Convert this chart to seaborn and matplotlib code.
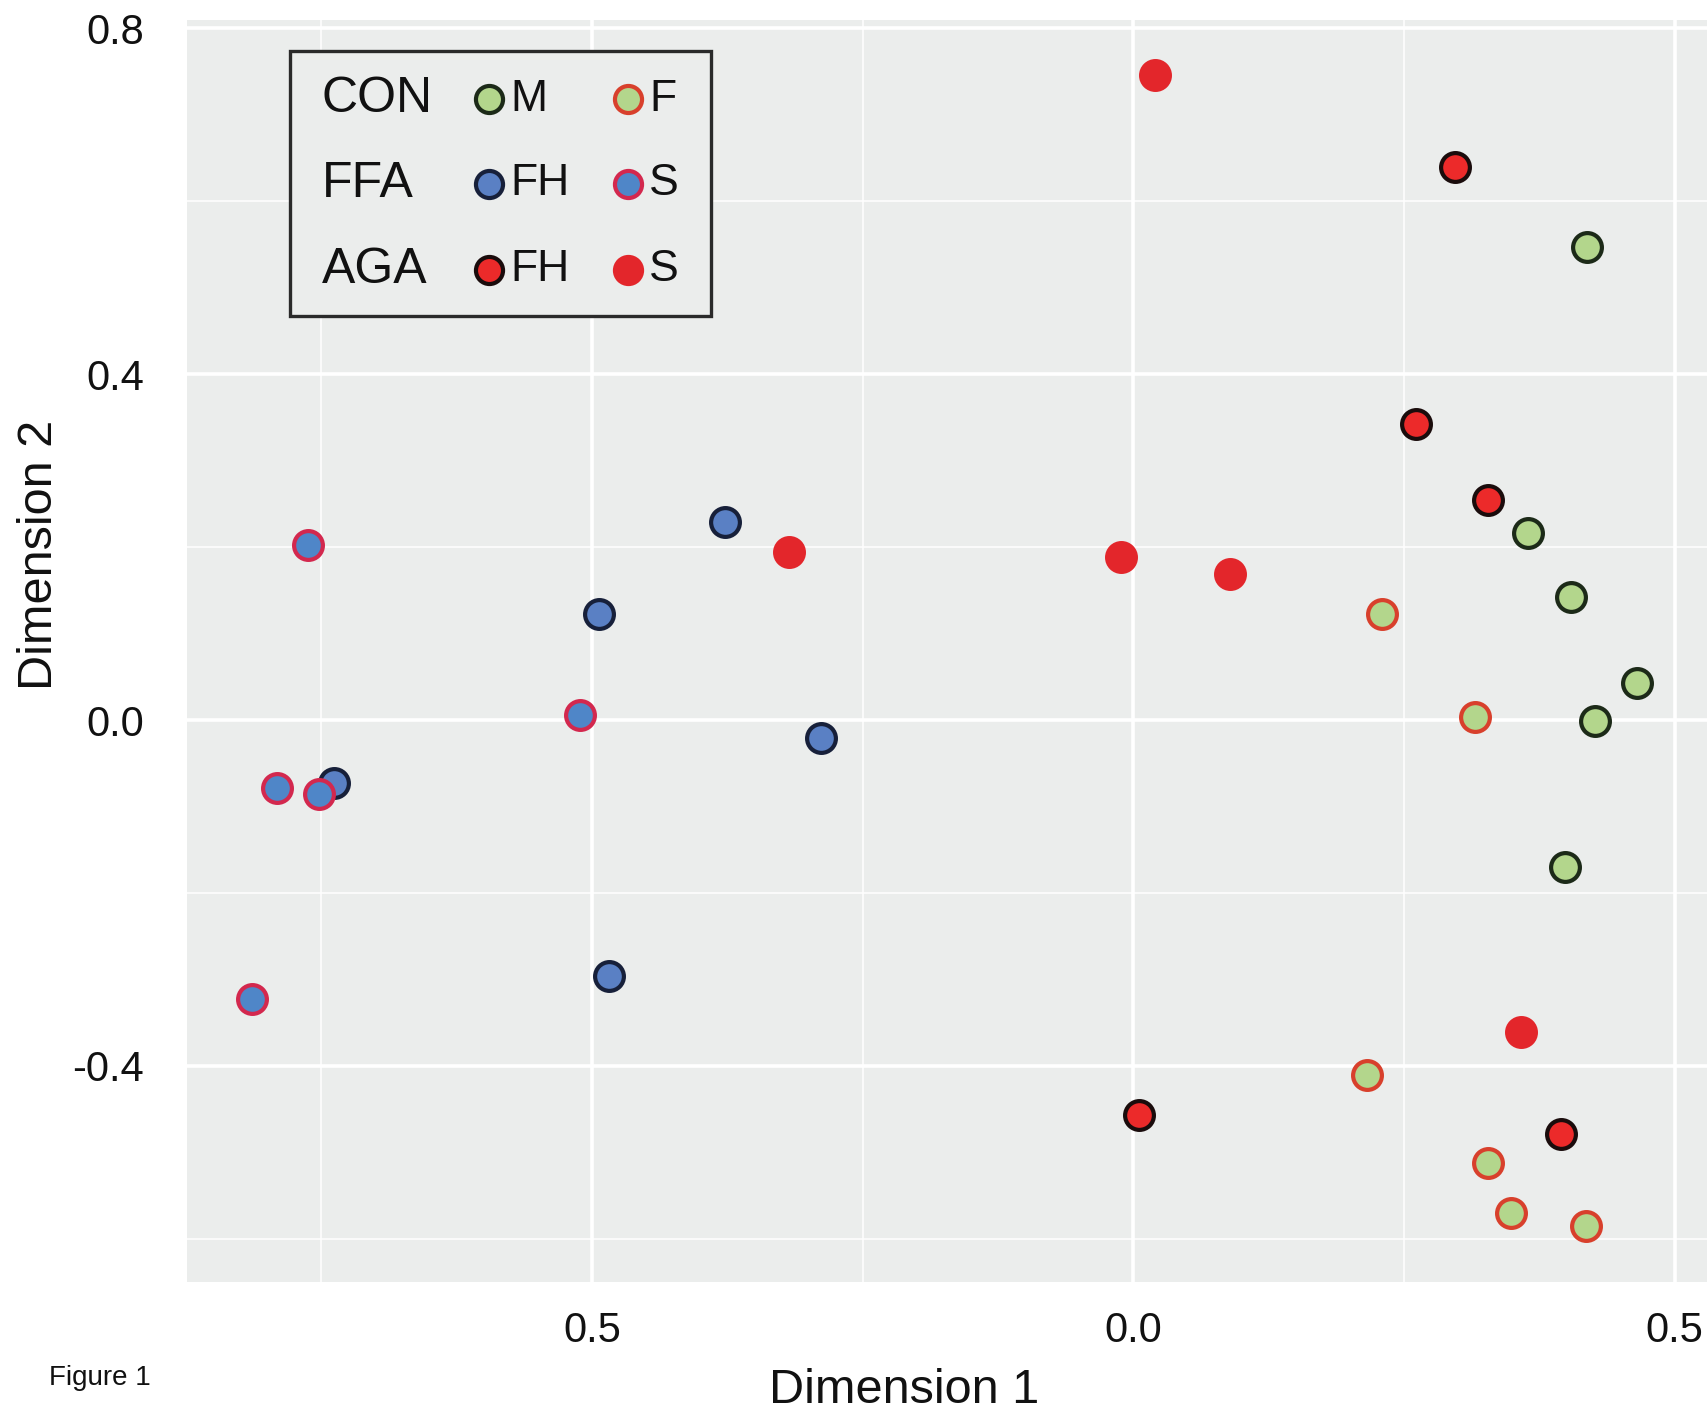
import matplotlib
matplotlib.use("Agg")
import matplotlib.pyplot as plt
import seaborn as sns
import pandas as pd
import numpy as np

# point coordinates, per group
con_m_x = [0.419, 0.365, 0.404, 0.465, 0.427, 0.399]
con_m_y = [0.547, 0.216, 0.142, 0.043, -0.001, -0.170]
con_f_x = [0.230, 0.316, 0.216, 0.328, 0.349, 0.418]
con_f_y = [0.123, 0.003, -0.410, -0.512, -0.570, -0.585]
ffa_fh_x = [-0.377, -0.493, -0.288, -0.738, -0.484]
ffa_fh_y = [0.229, 0.123, -0.021, -0.073, -0.296]
ffa_s_x = [-0.762, -0.511, -0.791, -0.752, -0.814]
ffa_s_y = [0.203, 0.006, -0.079, -0.086, -0.323]
aga_fh_x = [0.297, 0.261, 0.328, 0.005, 0.395]
aga_fh_y = [0.640, 0.342, 0.255, -0.457, -0.479]
aga_s_x = [0.020, -0.318, -0.011, 0.089, 0.358]
aga_s_y = [0.746, 0.194, 0.189, 0.169, -0.361]

x_ticks = [-0.5, 0.0, 0.5]
x_tick_labels = ["0.5", "0.0", "0.5"]
y_ticks = [-0.4, 0.0, 0.4, 0.8]
y_tick_labels = ["-0.4", "0.0", "0.4", "0.8"]

# fill, edge
styles = {
    "CON M": ("#b3d68c", "#1c2a18"),
    "CON F": ("#b3d68c", "#d8402c"),
    "FFA FH": ("#5a80c4", "#17203a"),
    "FFA S": ("#4f86c8", "#d3284e"),
    "AGA FH": ("#ec2a2a", "#1a0c0c"),
    "AGA S": ("#e3262b", "#e3262b"),
}

frames = []
for name, xs, ys in [("CON M", con_m_x, con_m_y), ("CON F", con_f_x, con_f_y),
                     ("FFA FH", ffa_fh_x, ffa_fh_y), ("FFA S", ffa_s_x, ffa_s_y),
                     ("AGA FH", aga_fh_x, aga_fh_y), ("AGA S", aga_s_x, aga_s_y)]:
    frames.append(pd.DataFrame({"dim1": xs, "dim2": ys, "group": name}))
df = pd.concat(frames, ignore_index=True)

sns.set_style("darkgrid")
plt.rcParams["font.family"] = ["Liberation Sans", "DejaVu Sans"]

fig = plt.figure(figsize=(17.07, 14.15), dpi=100)
ax = fig.add_axes([0.1095, 0.094, 0.8905, 0.892])
ax.set_facecolor("#ebedec")

for name, sub in df.groupby("group", sort=False):
    fill, edge = styles[name]
    sns.scatterplot(data=sub, x="dim1", y="dim2", ax=ax, color=fill,
                    edgecolor=edge, linewidth=3.0, s=430, zorder=3, legend=False)

ax.set_xlim(-0.874, 0.530)
ax.set_ylim(-0.650, 0.810)
ax.set_xticks(x_ticks)
ax.set_xticklabels(x_tick_labels)
ax.set_yticks(y_ticks)
ax.set_yticklabels(y_tick_labels)
ax.set_xticks([-0.75, -0.25, 0.25], minor=True)
ax.set_yticks([-0.6, -0.2, 0.2, 0.6], minor=True)
ax.grid(which="major", color="white", linewidth=2.6)
ax.grid(which="minor", color="white", linewidth=1.1)
ax.tick_params(which="major", labelsize=30, length=5, color="#555555",
               colors="#111111", width=1)
ax.tick_params(axis="x", pad=16)
ax.tick_params(axis="y", pad=26)
ax.tick_params(which="minor", length=0)
for sp in ax.spines.values():
    sp.set_visible(False)

ax.set_xlabel("Dimension 1", fontsize=35, color="#111111")
ax.set_ylabel("Dimension 2", fontsize=35, color="#111111")
ax.xaxis.set_label_coords(0.472, -0.068)
ax.yaxis.set_label_coords(-0.082, 0.576)

# hand-built legend box
box = plt.Rectangle((0.068, 0.765), 0.277, 0.210, transform=ax.transAxes,
                    facecolor="#ebedec", edgecolor="#2a2a2a", linewidth=2.4,
                    zorder=5)
ax.add_patch(box)
rows = [("CON", "CON M", "M", "CON F", "F"),
        ("FFA", "FFA FH", "FH", "FFA S", "S"),
        ("AGA", "AGA FH", "FH", "AGA S", "S")]
row_y = [0.937, 0.870, 0.802]
for (lab, g1, t1, g2, t2), yy in zip(rows, row_y):
    ax.text(0.0888, yy, lab, transform=ax.transAxes, fontsize=36,
            va="center", ha="left", zorder=6, color="#111111")
    for g, t, mx, tx in [(g1, t1, 0.199, 0.213), (g2, t2, 0.290, 0.304)]:
        fill, edge = styles[g]
        ax.scatter([mx], [yy], transform=ax.transAxes, s=380, color=fill,
                   edgecolor=edge, linewidth=3.0, zorder=7, clip_on=False)
        ax.text(tx, yy, t, transform=ax.transAxes, fontsize=32,
                va="center", ha="left", zorder=6, color="#111111")

fig.text(0.0287, 0.017, "Figure 1", fontsize=20, color="#111111",
         ha="left", va="bottom")

fig.savefig("out.png", dpi=100)
